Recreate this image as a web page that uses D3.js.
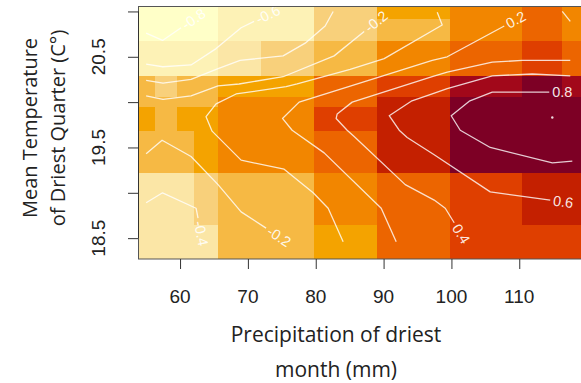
<!DOCTYPE html>
<html><head><meta charset="utf-8">
<script src="https://cdn.jsdelivr.net/npm/d3@7"></script>
<style>body{margin:0;background:#fff;overflow:hidden}</style>
</head><body>
<svg id="chart" width="581" height="383"></svg>
<script>
// ---- data ----
// cell edges of the image grid
const xEdges = [53.8, 56.3, 59.6, 62.1, 65.6, 71.9, 79.8, 89.1, 99.8, 110.4, 116.3, 119.1];
const yEdges = [21.06, 20.92, 20.67, 20.29, 20.06, 19.95, 19.68, 19.22, 18.65, 18.27];
// cell values, rows top -> bottom, columns left -> right
const zRow0 = [-0.92,-0.92,-0.92,-0.92,-0.75,-0.75,-0.42,-0.08, 0.08, 0.25, 0.08];
const zRow1 = [-0.92,-0.92,-0.92,-0.92,-0.75,-0.75,-0.42,-0.25, 0.08, 0.25, 0.08];
const zRow2 = [-0.75,-0.75,-0.75,-0.75,-0.58,-0.42,-0.25, 0.08, 0.25, 0.42, 0.25];
const zRow3 = [-0.25,-0.42,-0.25,-0.25,-0.08,-0.08, 0.25, 0.42, 0.75, 0.92, 0.75];
const zRow4 = [-0.25,-0.25,-0.25,-0.25, 0.08, 0.08, 0.25, 0.58, 0.92, 0.92, 0.92];
const zRow5 = [-0.08,-0.25,-0.08,-0.08, 0.08, 0.08, 0.42, 0.58, 0.92, 0.92, 0.92];
const zRow6 = [-0.25,-0.25,-0.25,-0.08, 0.08, 0.08, 0.25, 0.58, 0.92, 0.92, 0.92];
const zRow7 = [-0.58,-0.58,-0.58,-0.42,-0.25,-0.25, 0.08, 0.25, 0.42, 0.58, 0.58];
const zRow8 = [-0.58,-0.58,-0.58,-0.58,-0.25,-0.25,-0.08, 0.25, 0.42, 0.42, 0.42];
const zRows = [zRow0,zRow1,zRow2,zRow3,zRow4,zRow5,zRow6,zRow7,zRow8];
const palette = ["#FFFFC8","#FDF2B6","#FBE6A6","#F8D07B","#F6B944","#F4A300",
                 "#F28600","#EC6500","#DF3F00","#C42000","#A2081A","#7D0025"];

// contour lines (x mm, y °C)
const cM08a = [[55.0,20.76],[57.42,20.68],[60.15,20.82]];
const cM06a = [[55.0,20.42],[57.45,20.39],[61.62,20.41],[65.31,20.59],[69.0,20.82],[70.91,20.89]];
const cM04a = [[55.0,20.24],[57.49,20.21],[61.62,20.25],[65.6,20.37],[68.85,20.46],[75.19,20.51],[78.44,20.65],[81.39,20.84],[82.57,21.0]];
const cM02a = [[55.0,20.07],[57.49,20.03],[61.62,20.07],[65.6,20.18],[68.7,20.2],[75.19,20.28],[82.71,20.51],[87.14,20.78]];
const cZero = [[84.04,18.46],[81.83,18.83],[79.62,19.0],[75.34,19.26],[69.0,19.36],[64.72,19.68],[63.83,19.84],[65.31,19.98],[68.26,20.09],[75.63,20.17],[77.26,20.20],[85.07,20.36],[90.09,20.48],[98.64,20.85],[97.91,20.99]];
const cP02 = [[91.86,18.46],[89.65,18.83],[81.24,19.44],[76.52,19.69],[75.1,19.82],[77.55,20.0],[88.61,20.26],[97.17,20.46],[99.38,20.5],[107.79,20.84]];
const cP04a = [[117.52,20.46],[110.44,20.46],[106.02,20.44],[99.38,20.33],[97.17,20.28],[85.37,20.0],[83.16,19.87],[83.01,19.82],[84.63,19.69],[85.66,19.62],[93.19,19.09],[97.46,18.92],[99.09,18.83],[100.41,18.67]];
const cP06 = [[117.52,20.29],[111.92,20.31],[106.02,20.29],[99.38,20.15],[97.17,20.09],[94.07,20.01],[90.83,19.85],[92.30,19.69],[93.48,19.61],[97.46,19.42],[105.72,19.01],[114.57,18.92]];
const cP08 = [[117.82,19.35],[114.87,19.33],[105.72,19.50],[101.30,19.69],[99.97,19.85],[102.63,20.01],[106.02,20.11],[114.42,20.11]];
const cM02b = [[55.0,19.43],[57.35,19.58],[61.62,19.40],[65.6,19.09],[69.0,18.79],[72.68,18.61]];
const cM04b = [[55.0,18.89],[57.42,19.0],[62.36,18.83],[62.65,18.72]];
const cP04b = [[116.34,21.0],[117.52,20.89]];
const peak = [114.87,19.83];

const contours = [
  {level:-0.8, pts:cM08a, label:true},
  {level:-0.6, pts:cM06a, label:true},
  {level:-0.4, pts:cM04a, label:false},
  {level:-0.2, pts:cM02a, label:true},
  {level:0.0,  pts:cZero, label:false},
  {level:0.2,  pts:cP02,  label:true},
  {level:0.4,  pts:cP04a, label:true},
  {level:0.6,  pts:cP06,  label:true},
  {level:0.8,  pts:cP08,  label:true},
  {level:-0.2, pts:cM02b, label:true},
  {level:-0.4, pts:cM04b, label:true},
  {level:0.4,  pts:cP04b, label:false}
];

const xTicks = [60,70,80,90,100,110];
const yTicks = [18.5,19,19.5,20,20.5,21];
const yTickLabels = [18.5,19.5,20.5];
const xTitle = ["Precipitation of driest","month (mm)"];
const yTitle = ["Mean Temperature","of Driest Quarter (C°)"];

// ---- drawing ----
const svg = d3.select("#chart");
const x = d3.scaleLinear().domain([53.8,119.1]).range([138,581]);
const y = d3.scaleLinear().domain([18.27,21.06]).range([259,6]);
const color = d3.scaleQuantize().domain([-1,1]).range(palette);

svg.append("clipPath").attr("id","clip").append("rect")
  .attr("x",x(53.8)).attr("y",y(21.06)).attr("width",x(119.1)-x(53.8)).attr("height",y(18.27)-y(21.06));

const cells = [];
zRows.forEach((row,r)=>row.forEach((v,c)=>cells.push({r,c,v})));
svg.append("g").attr("clip-path","url(#clip)").selectAll("rect").data(cells).join("rect")
  .attr("x",d=>x(xEdges[d.c])).attr("y",d=>y(yEdges[d.r]))
  .attr("width",d=>x(xEdges[d.c+1])-x(xEdges[d.c])+0.5)
  .attr("height",d=>y(yEdges[d.r+1])-y(yEdges[d.r])+0.5)
  .attr("fill",d=>color(d.v)).attr("shape-rendering","crispEdges");

const line = d3.line().x(d=>x(d[0])).y(d=>y(d[1]));
const cg = svg.append("g").attr("clip-path","url(#clip)");
cg.selectAll("path").data(contours).join("path")
  .attr("d",d=>line(d.pts)).attr("fill","none")
  .attr("stroke","#fff").attr("stroke-opacity",0.8).attr("stroke-width",1.3)
  .attr("stroke-linejoin","round");
cg.append("circle").attr("cx",x(peak[0])).attr("cy",y(peak[1])).attr("r",1.2).attr("fill","#fff").attr("fill-opacity",0.85);

const fmt = v => (v<0?"-":"") + Math.abs(v).toFixed(1);
contours.filter(d=>d.label).forEach(d=>{
  const n=d.pts.length, a=d.pts[n-2], b=d.pts[n-1];
  const ax=x(a[0]), ay=y(a[1]), bx=x(b[0]), by=y(b[1]);
  const len=Math.hypot(bx-ax,by-ay), ux=(bx-ax)/len, uy=(by-ay)/len;
  let ang=Math.atan2(by-ay,bx-ax)*180/Math.PI;
  const t=cg.append("text").text(fmt(d.level))
    .attr("font-family","'Liberation Sans', Arial, sans-serif").attr("font-size",14.5)
    .attr("fill","#fff").attr("fill-opacity",0.9)
    .attr("text-anchor","middle").attr("dominant-baseline","central");
  const w=t.node().getComputedTextLength();
  const cx=bx+ux*(w/2+3), cy=by+uy*(w/2+3);
  if(ang>90) ang-=180; if(ang<-90) ang+=180;
  t.attr("x",cx).attr("y",cy).attr("transform",`rotate(${ang},${cx},${cy})`);
});

// box
svg.append("rect").attr("x",138.5).attr("y",6.5).attr("width",x(119.1)-138+2).attr("height",252.5)
  .attr("fill","none").attr("stroke","#555").attr("stroke-width",1);

// axes
const xa = svg.append("g").attr("transform","translate(0,259)")
  .call(d3.axisBottom(x).tickValues(xTicks).tickSize(10).tickFormat(""));
xa.select(".domain").remove();
xa.selectAll("line").attr("stroke","#333");
svg.append("g").selectAll("text").data(xTicks).join("text")
  .attr("x",d=>x(d)).attr("y",303).attr("text-anchor","middle")
  .attr("font-family","'Liberation Sans', Arial, sans-serif").attr("font-size",19).attr("fill","#222")
  .text(d=>d);

const ya = svg.append("g").attr("transform","translate(138,0)")
  .call(d3.axisLeft(y).tickValues(yTicks).tickSize(10).tickFormat(""));
ya.select(".domain").attr("d",`M0.5,${y(18.5)}V${y(21)}`).attr("stroke","#333");
ya.selectAll("line").attr("stroke","#333");
svg.append("g").selectAll("text").data(yTickLabels).join("text")
  .attr("transform",d=>`translate(105,${y(d)}) rotate(-90)`).attr("text-anchor","middle")
  .attr("font-family","'Liberation Sans', Arial, sans-serif").attr("font-size",19).attr("fill","#222")
  .text(d=>d.toFixed(1));

// titles
svg.append("g").selectAll("text").data(xTitle).join("text")
  .attr("x",336).attr("y",(d,i)=>342+i*35).attr("text-anchor","middle")
  .attr("font-family","'Open Sans', 'Noto Sans', sans-serif").attr("font-size",21).attr("fill","#222")
  .text(d=>d);
svg.append("g").selectAll("text").data(yTitle).join("text")
  .attr("transform",(d,i)=>`translate(${37+i*28},128) rotate(-90)`).attr("text-anchor","middle")
  .attr("font-family","'Open Sans', 'Noto Sans', sans-serif").attr("font-size",20).attr("fill","#222")
  .text(d=>d);
</script>
</body></html>
